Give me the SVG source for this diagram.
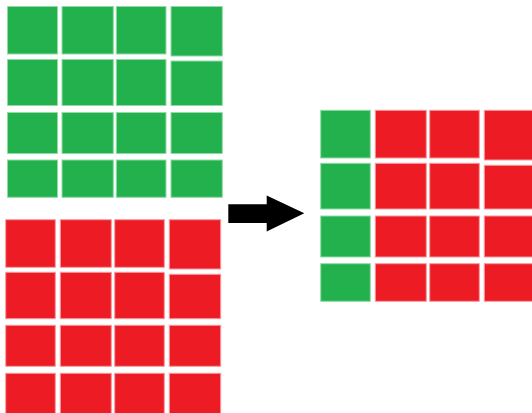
<svg xmlns="http://www.w3.org/2000/svg" width="532" height="413" viewBox="0 0 532 413">
  <style>
    .g { fill: #22b14c; stroke: #8fdca5; stroke-width: 1; }
    .r { fill: #ed1c24; stroke: #f59a9e; stroke-width: 1; }
  </style>
  <rect width="532" height="413" fill="#ffffff"/>

  <!-- green 4x4 grid -->
  <g id="green-grid">
    <rect class="g" x="7.5" y="6.5" width="50" height="47.5"/>
    <rect class="g" x="62" y="6.5" width="51.3" height="47.5"/>
    <rect class="g" x="116.3" y="6.5" width="49.7" height="47.5"/>
    <rect class="g" x="171" y="6.5" width="51.3" height="49.5"/>

    <rect class="g" x="7.5" y="59.5" width="50" height="46"/>
    <rect class="g" x="62" y="59.5" width="51.3" height="46"/>
    <rect class="g" x="116.3" y="59.5" width="49.7" height="46"/>
    <rect class="g" x="171" y="61" width="51.3" height="44.5"/>

    <rect class="g" x="7.5" y="112.5" width="50" height="41"/>
    <rect class="g" x="62" y="112.5" width="51.3" height="41"/>
    <rect class="g" x="116.3" y="112.5" width="49.7" height="41"/>
    <rect class="g" x="171" y="112.5" width="51.3" height="41"/>

    <rect class="g" x="7.5" y="160" width="50" height="37.3"/>
    <rect class="g" x="62" y="160" width="51.3" height="37.3"/>
    <rect class="g" x="116.3" y="160" width="49.7" height="37.3"/>
    <rect class="g" x="171" y="160" width="51.3" height="37.3"/>
  </g>

  <!-- red 4x4 grid -->
  <g id="red-grid">
    <rect class="r" x="5.7" y="219.7" width="49.6" height="47.6"/>
    <rect class="r" x="60.3" y="219.7" width="51" height="47.6"/>
    <rect class="r" x="114.7" y="219.7" width="49.6" height="47.6"/>
    <rect class="r" x="169.3" y="219.7" width="51.4" height="49.3"/>

    <rect class="r" x="5.7" y="272.3" width="49.6" height="46.4"/>
    <rect class="r" x="60.3" y="272.3" width="51" height="46.4"/>
    <rect class="r" x="114.7" y="272.3" width="49.6" height="46.4"/>
    <rect class="r" x="169.3" y="274.3" width="51.4" height="44.4"/>

    <rect class="r" x="5.7" y="325.3" width="49.6" height="41"/>
    <rect class="r" x="60.3" y="325.3" width="51" height="41"/>
    <rect class="r" x="114.7" y="325.3" width="49.6" height="41"/>
    <rect class="r" x="169.3" y="325.3" width="51.4" height="41"/>

    <rect class="r" x="5.7" y="373.3" width="49.6" height="45"/>
    <rect class="r" x="60.3" y="373.3" width="51" height="45"/>
    <rect class="r" x="114.7" y="373.3" width="49.6" height="45"/>
    <rect class="r" x="169.3" y="373.3" width="51.4" height="45"/>
  </g>

  <!-- connector arrow -->
  <g id="connectors">
    <polygon fill="#000000" points="228.3,204.3 266.7,204.3 266.7,195.5 304.3,213.3 266.7,231.5 266.7,223 228.3,223"/>
  </g>

  <!-- merged result grid: one green column, three red columns -->
  <g id="result-grid">
    <rect class="g" x="320.7" y="110.3" width="49.6" height="47.7"/>
    <rect class="r" x="375.3" y="110.3" width="51" height="47.7"/>
    <rect class="r" x="429.7" y="110.3" width="49.6" height="47.7"/>
    <rect class="r" x="484.3" y="110.3" width="52" height="49.7"/>

    <rect class="g" x="320.7" y="163.3" width="49.6" height="45.7"/>
    <rect class="r" x="375.3" y="163.3" width="51" height="45.7"/>
    <rect class="r" x="429.7" y="163.3" width="49.6" height="45.7"/>
    <rect class="r" x="484.3" y="165.3" width="52" height="43.7"/>

    <rect class="g" x="320.7" y="216" width="49.6" height="41"/>
    <rect class="r" x="375.3" y="216" width="51" height="41"/>
    <rect class="r" x="429.7" y="216" width="49.6" height="41"/>
    <rect class="r" x="484.3" y="216" width="52" height="41"/>

    <rect class="g" x="320.7" y="263.7" width="49.6" height="37.6"/>
    <rect class="r" x="375.3" y="263.7" width="51" height="37.6"/>
    <rect class="r" x="429.7" y="263.7" width="49.6" height="37.6"/>
    <rect class="r" x="484.3" y="263.7" width="52" height="37.6"/>
  </g>
</svg>
